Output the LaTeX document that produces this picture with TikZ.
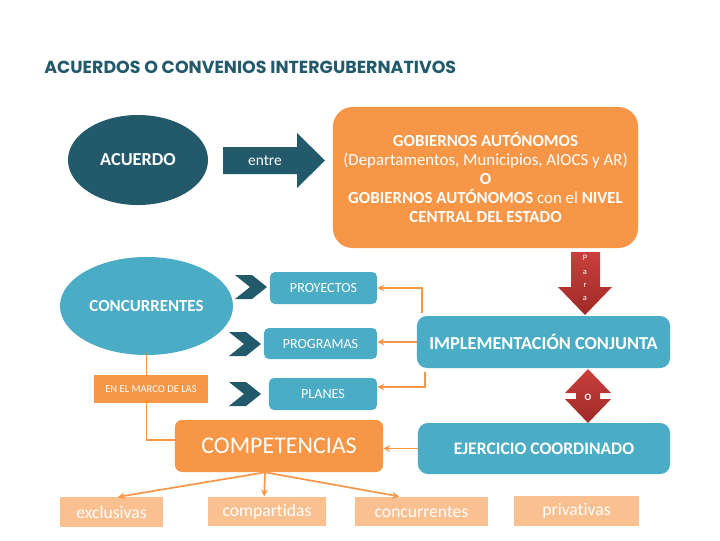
\documentclass[tikz,border=0pt]{standalone}
\usepackage{fontspec}
\setmainfont{Carlito}[Ligatures=NoCommon]
\newfontfamily\titlefont{Poppins}
\usetikzlibrary{arrows,positioning,shapes.geometric,calc}

\definecolor{tealdark}{HTML}{235A6B}
\definecolor{tealbox}{HTML}{4BACC6}
\definecolor{orangebox}{HTML}{F79646}
\definecolor{orangelight}{HTML}{FAC090}
\definecolor{redtop}{HTML}{C9403C}
\definecolor{redbot}{HTML}{9E2A28}

\begin{document}
\begin{tikzpicture}[
  x=0.025cm, y=-0.025cm,
  oval/.style={ellipse, inner sep=0pt, text=white, font=\bfseries\fontsize{12}{14}\selectfont},
  tealrect/.style={rectangle, fill=tealbox, text=white, inner sep=0pt, rounded corners=3.5pt},
  orangerect/.style={rectangle, fill=orangebox, text=white, inner sep=0pt},
  kind/.style={rectangle, fill=orangelight, text=white, inner sep=0pt, minimum height=0.74cm,
    font=\fontsize{12.5}{14}\selectfont},
  link/.style={draw=orangebox, line width=1.2pt, ->, >=stealth}
]
  \useasboundingbox (0,0) rectangle (720,540);

  % title
  \node[anchor=west, inner sep=0pt, text=tealdark, font=\titlefont\bfseries\fontsize{12.4}{14}\selectfont]
    (title) at (44,67) {ACUERDOS O CONVENIOS INTERGUBERNATIVOS};

  % top row
  \node[oval, fill=tealdark, minimum width=3.5cm, minimum height=2.25cm,
    font=\bfseries\fontsize{13}{15}\selectfont] (acuerdo) at (138,160) {ACUERDO};
  \fill[tealdark] (223,147) -- (297,147) -- (297,133) -- (325,160.5) -- (297,188)
    -- (297,174) -- (223,174) -- cycle;
  \node[text=white, font=\fontsize{11}{13}\selectfont] (entre) at (265,161) {entre};
  \node[orangerect, rounded corners=14pt, minimum width=7.625cm, minimum height=3.525cm,
    align=center, font=\fontsize{12}{13.5}\selectfont] (gob) at (485.5,177.5)
    {\textbf{GOBIERNOS AUT\'ONOMOS}\\(Departamentos, Municipios, AIOCS y AR)\\\textbf{O}\\
     \textbf{GOBIERNOS AUT\'ONOMOS} con el \textbf{NIVEL}\\\textbf{CENTRAL DEL ESTADO}};

  % red arrows
  \shade[top color=redtop, bottom color=redbot] (571,252) -- (600,252) -- (600,287)
    -- (612,287) -- (585,315) -- (558,287) -- (571,287) -- cycle;
  \node[text=white, align=center, font=\fontsize{6}{9.4}\selectfont] (para) at (585,278)
    {P\\a\\r\\a};
  \shade[top color=redtop, bottom color=redbot] (588,369) -- (611,393) -- (600,393)
    -- (600,399) -- (611,399) -- (588,423) -- (565,399) -- (576,399) -- (576,393)
    -- (565,393) -- cycle;
  \node[text=white, font=\bfseries\fontsize{7}{8}\selectfont] (o) at (588,397) {O};

  % right column
  \node[tealrect, rounded corners=7pt, minimum width=6.325cm, minimum height=1.3cm,
    font=\bfseries\fontsize{13}{15}\selectfont] (imp) at (543.5,342) {IMPLEMENTACI\'ON CONJUNTA};
  \node[tealrect, rounded corners=7pt, minimum width=6.3cm, minimum height=1.275cm,
    font=\bfseries\fontsize{12.5}{15}\selectfont] (ejer) at (544,448.5) {EJERCICIO COORDINADO};

  % left column
  \node[oval, fill=tealbox, minimum width=4.325cm, minimum height=2.45cm] (conc) at (146.5,306)
    {CONCURRENTES};
  \foreach \l/\t in {235/275, 229/332, 229/382}
    \fill[tealdark] (\l,\t) -- ++(17,0) -- ++(15,12) -- ++(-15,12) -- ++(-17,0)
      -- ++(15,-12) -- cycle;
  \node[tealrect, minimum width=2.675cm, minimum height=0.8cm,
    font=\fontsize{10}{12}\selectfont] (proy) at (323.5,288) {PROYECTOS};
  \node[tealrect, minimum width=2.825cm, minimum height=0.775cm,
    font=\fontsize{10}{12}\selectfont] (prog) at (320.5,343.5) {PROGRAMAS};
  \node[tealrect, minimum width=2.7cm, minimum height=0.8cm,
    font=\fontsize{10}{12}\selectfont] (planes) at (323,394) {PLANES};
  \node[orangerect, minimum width=2.85cm, minimum height=0.7cm,
    font=\fontsize{7.5}{9}\selectfont] (marco) at (151,389) {EN EL MARCO DE LAS};
  \node[orangerect, rounded corners=5pt, minimum width=5.2cm, minimum height=1.3cm,
    font=\fontsize{17}{20}\selectfont] (comp) at (279,446) {COMPETENCIAS};

  % kinds of competencias
  \node[kind, minimum width=2.575cm] (excl) at (111.5,512) {exclusivas};
  \node[kind, minimum width=2.95cm] (compart) at (267,511.5) {compartidas};
  \node[kind, minimum width=3.325cm] (concu) at (421.5,511.5) {concurrentes};
  \node[kind, minimum width=3.125cm] (priv) at (576.5,511) {privativas};

  % connectors
  \draw[link] ([xshift=0.125cm, yshift=0.075cm]imp.north west) |- (proy.east);
  \draw[link] (imp.west) -- (prog.east |- imp.west);
  \draw[link] ([xshift=0.2cm, yshift=-0.1cm]imp.south west) |- ([yshift=0.175cm]planes.east);
  \draw[link] (ejer.west) -- (comp.east |- ejer.west);
  \draw[draw=orangebox, line width=1.2pt] (conc.south) -- (conc.south |- marco.north);
  \draw[draw=orangebox, line width=1.2pt] (conc.south |- marco.south) |- ([yshift=0.15cm]comp.west);
  \coordinate (split) at ([xshift=-0.35cm]comp.south);
  \draw[link] (split) -- ([xshift=0.16cm]excl.north);
  \draw[link] (split) -- ([xshift=-0.07cm]compart.north);
  \draw[link] (split) -- ([xshift=-0.56cm]concu.north);
\end{tikzpicture}
\end{document}
